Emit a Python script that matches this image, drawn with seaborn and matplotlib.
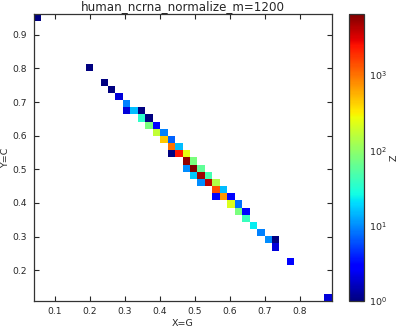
import matplotlib
matplotlib.use("Agg")
import matplotlib.pyplot as plt
from matplotlib.colors import LogNorm
import pandas as pd
import seaborn as sns

# cell centres (G, C) and counts, 40x40 bins
g_vals = [0.049, 0.198, 0.241, 0.262, 0.284, 0.305, 0.305, 0.326, 0.347, 0.347,
          0.369, 0.369, 0.390, 0.390, 0.411, 0.411, 0.433, 0.433, 0.454, 0.433,
          0.454, 0.475, 0.475, 0.497, 0.475, 0.497, 0.518, 0.497, 0.518, 0.539,
          0.518, 0.539, 0.560, 0.560, 0.582, 0.560, 0.582, 0.603, 0.603, 0.624,
          0.624, 0.646, 0.646, 0.667, 0.688, 0.710, 0.731, 0.731, 0.773, 0.880]
c_vals = [0.951, 0.802, 0.759, 0.738, 0.717, 0.695, 0.674, 0.674, 0.674, 0.653,
          0.653, 0.631, 0.631, 0.610, 0.610, 0.589, 0.589, 0.567, 0.567, 0.546,
          0.546, 0.546, 0.525, 0.525, 0.503, 0.503, 0.503, 0.482, 0.482, 0.482,
          0.461, 0.461, 0.461, 0.439, 0.439, 0.418, 0.418, 0.418, 0.397, 0.397,
          0.376, 0.376, 0.354, 0.333, 0.312, 0.290, 0.290, 0.269, 0.226, 0.120]
counts = [1, 1, 1, 1, 2, 9, 2, 15, 1, 35,
          1, 80, 3, 170, 9, 450, 7, 1000, 15, 1,
          2400, 250, 5500, 80, 10, 6460, 60, 17, 5000, 45,
          10, 4000, 140, 1400, 15, 3, 700, 3, 220, 8,
          80, 3, 40, 23, 9, 10, 1, 2, 3, 2]

x_range = (0.0386, 0.8906)
y_range = (0.109, 0.962)

df = pd.DataFrame({"G": g_vals, "C": c_vals, "n": counts})

sns.set_style("ticks", {
    "xtick.direction": "in", "ytick.direction": "in",
    "xtick.top": True, "ytick.right": True,
    "axes.edgecolor": "#333333",
})
plt.rcParams["font.family"] = ["DejaVu Sans"]

fig = plt.figure(figsize=(3.97, 3.28), dpi=100)
ax = fig.add_axes([0.0844, 0.0832, 0.751, 0.874])
cax = fig.add_axes([0.880, 0.0823, 0.0378, 0.875])

sns.histplot(data=df, x="G", y="C", weights="n", bins=40,
             binrange=(x_range, y_range), cmap=matplotlib.colormaps["jet"],
             norm=LogNorm(vmin=1, vmax=max(counts)), vmin=None, vmax=None,
             cbar=False, ax=ax)
mesh = ax.collections[0]

ax.set_xlim(*x_range)
ax.set_ylim(*y_range)
ax.set_xticks([0.1, 0.2, 0.3, 0.4, 0.5, 0.6, 0.7, 0.8])
ax.set_yticks([0.2, 0.3, 0.4, 0.5, 0.6, 0.7, 0.8, 0.9])
ax.tick_params(labelsize=6.6, length=3.5, width=0.8, pad=4.5)
for s in ax.spines.values():
    s.set_linewidth(0.9)
ax.set_xlabel("X=G", fontsize=6.8, labelpad=2)
ax.set_ylabel("Y=C", fontsize=6.8, labelpad=2)
ax.set_title("human_ncrna_normalize_m=1200", fontsize=8.6, pad=3)

cbar = fig.colorbar(mesh, cax=cax)
cbar.minorticks_off()
cbar.ax.tick_params(labelsize=6.8, direction="in", length=3, width=0.8, pad=3)
cbar.outline.set_linewidth(0.9)
cbar.outline.set_edgecolor("#333333")
cbar.set_label("Z", fontsize=6.8, labelpad=2)

fig.savefig("out.png", dpi=100)
